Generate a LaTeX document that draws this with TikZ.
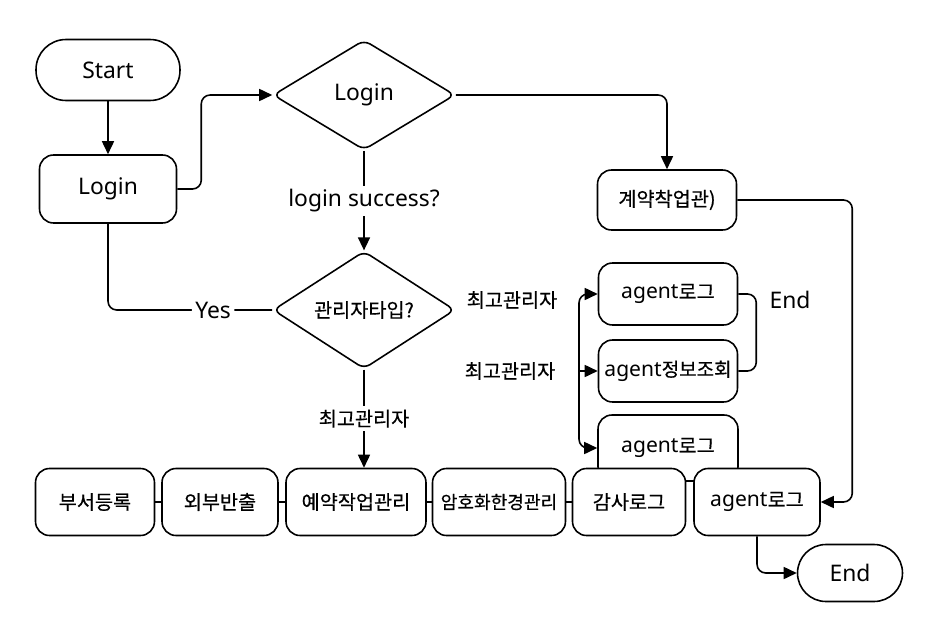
\documentclass[tikz,border=0pt]{standalone}
\usepackage{fontspec}
\setmainfont{Noto Sans}
\newfontfamily\krfont{Noto Sans CJK KR}[FakeBold=0.5]
\newcommand{\kr}[2][11.2]{{\krfont\fontsize{#1}{#1}\selectfont #2}}
\usetikzlibrary{shapes.geometric,arrows.meta}

\begin{document}
\begin{tikzpicture}[x=0.02cm, y=-0.02cm, font=\fontsize{13}{15}\selectfont, line width=0.9pt,
        box/.style = {draw, fill=white, rounded corners=0.28cm, inner sep=2pt},
        term/.style = {draw, fill=white, rounded corners=0.6cm, inner sep=2pt},
        decide/.style = {draw, fill=white, diamond, rounded corners=4pt, inner sep=0pt},
        agentfont/.style = {font=\fontsize{12}{14}\selectfont},
        arr/.style = {-{Triangle[length=2.6mm,width=2.4mm]}},
        lbl/.style = {fill=white, inner sep=2pt}]
        \fill[white] (0,0) rectangle (936,622);
        \useasboundingbox (0,0) rectangle (936,622);

        % top part
        \node[term, minimum width=2.88cm, minimum height=1.22cm] (start) at (108,70) {Start};
        \node[box, minimum width=2.74cm, minimum height=1.36cm] (login) at (108,189) {Login};
        \node[decide, minimum width=3.64cm, minimum height=2.2cm] (logindec) at (364,95) {Login};
        \node[box, minimum width=2.78cm, minimum height=1.2cm] (contract) at (667,200) {\kr{계약착업관)}};
        \node[decide, minimum width=3.64cm, minimum height=2.08cm] (typedec) at (364,310) {\kr{관리자타입?}};

        % agent boxes
        \node[box, agentfont, minimum width=2.8cm, minimum height=1.32cm] (agentlogB) at (668,448) {agent\kr{로그}};
        \node[box, agentfont, minimum width=2.78cm, minimum height=1.24cm] (agentlogA) at (668,294) {agent\kr{로그}};
        \node[box, agentfont, inner sep=1pt, minimum width=2.78cm, minimum height=1.24cm] (agentinfo) at (668,371) {agent\kr[10.8]{정보조회}};
        \node (endlbl) at (790,300) {End};
        \node (adminA) at (512,300) {\kr{최고관리자}};
        \node (adminB) at (510,371) {\kr{최고관리자}};
        \coordinate (trunk) at (579,371);

        % bottom row
        \node[box, minimum width=2.38cm, minimum height=1.34cm] (dept) at (95,502) {\kr{부서등록}};
        \node[box, minimum width=2.32cm, minimum height=1.34cm] (export) at (220,502) {\kr{외부반출}};
        \node[box, minimum width=2.8cm, minimum height=1.34cm] (sched) at (356,502) {\kr{예약작업관리}};
        \node[box, minimum width=2.66cm, minimum height=1.34cm] (crypto) at (499,502) {\kr[10.3]{암호화한경관리}};
        \node[box, minimum width=2.26cm, minimum height=1.34cm] (audit) at (629,502) {\kr{감사로그}};
        \node[box, agentfont, minimum width=2.52cm, minimum height=1.34cm] (agentlogC) at (757,502) {agent\kr{로그}};
        \node[term, rounded corners=0.57cm, minimum width=2.1cm, minimum height=1.14cm] (endnode) at (850,573) {End};

        \draw[arr] (start) -- (login);
        \draw[arr, rounded corners=5pt] (login.east) -- ++(24,0) |- (logindec.west);
        \draw[arr, rounded corners=5pt] (logindec.east) -| (contract.north);
        \draw[arr] (logindec.south) -- node[lbl]{login success?} (typedec.north);
        \draw[rounded corners=5pt] (login.south) |- node[lbl, pos=0.82]{Yes} (typedec.west);
        \draw[arr] (typedec.south) -- node[lbl]{\kr{최고관리자}} (typedec.south |- sched.north);
        \draw[arr, rounded corners=5pt] (contract.east) -- ++(115,0) |- (agentlogC.east);

        \draw[{Triangle[length=2.6mm,width=2.4mm]}-{Triangle[length=2.6mm,width=2.4mm]}, rounded corners=5pt]
        (agentlogA.west) -| (trunk) |- (agentlogB.west);
        \draw[arr] (trunk) -- (agentinfo.west);
        \draw[rounded corners=5pt] (agentlogA.east) -- ++(18,0) |- (agentinfo.east);

        \draw (dept) -- (export);
        \draw (export) -- (sched);
        \draw (sched) -- (crypto);
        \draw (crypto) -- (audit);
        \draw[arr, rounded corners=5pt] (agentlogC.south) |- (endnode.west);
    \end{tikzpicture}
\end{document}
